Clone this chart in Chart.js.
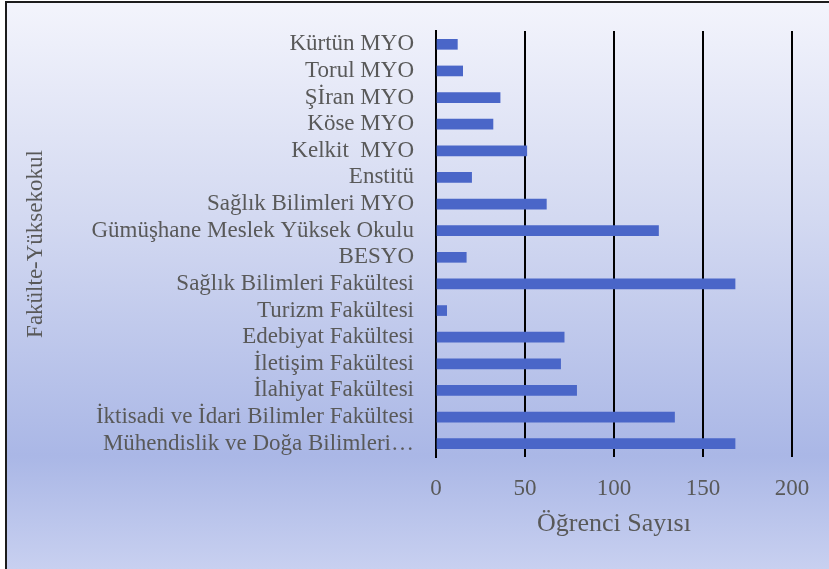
<!DOCTYPE html>
<html>
<head>
<meta charset="utf-8">
<script src="https://cdn.jsdelivr.net/npm/chart.js@4/dist/chart.umd.min.js"></script>
<style>
  html, body { margin: 0; padding: 0; background: #fff; }
  #frame {
    position: absolute; left: 5px; top: 1px; width: 822px; height: 566px;
    border-left: 2px solid #1c1c1c; border-top: 2px solid #1c1c1c;
    background: linear-gradient(to bottom, #f3f4fc 0%, #d3d9f1 38%, #aab7e6 80%, #c8d0f0 100%);
  }
  #wrap { position: absolute; left: 0; top: 0; width: 829px; height: 569px; }
</style>
</head>
<body>
<div id="frame"></div>
<div id="wrap"><canvas id="chart" width="829" height="569"></canvas></div>
<script>
// ===== DATA =====
const categories = [
    "Kürtün MYO",
    "Torul MYO",
    "Şİran MYO",
    "Köse MYO",
    "Kelkit  MYO",
    "Enstitü",
    "Sağlık Bilimleri MYO",
    "Gümüşhane Meslek Yüksek Okulu",
    "BESYO",
    "Sağlık Bilimleri Fakültesi",
    "Turizm Fakültesi",
    "Edebiyat Fakültesi",
    "İletişim Fakültesi",
    "İlahiyat Fakültesi",
    "İktisadi ve İdari Bilimler Fakültesi",
    "Mühendislik ve Doğa Bilimleri…"
];
const studentCounts = [12, 15, 36, 32, 51, 20, 62, 125, 17, 168, 6, 72, 70, 79, 134, 168];
const xTicks = [0, 50, 100, 150, 200];

const textColor = "#595959";
const serif = "'Liberation Serif', 'Times New Roman', serif";

// ===== CHART =====
const chart = new Chart(document.getElementById("chart"), {
    type: "bar",
    data: {
        labels: categories,
        datasets: [{
            label: "Öğrenci Sayısı",
            data: studentCounts,
            backgroundColor: "#4a66c8",
            barThickness: 10
        }]
    },
    options: {
        indexAxis: "y",
        responsive: false,
        animation: false,
        layout: { padding: { top: 31, right: 37, bottom: 0, left: 0 } },
        plugins: { legend: { display: false }, tooltip: { enabled: false } },
        scales: {
            x: {
                min: 0,
                max: 200,
                afterBuildTicks: s => { s.ticks = xTicks.map(v => ({ value: v })); },
                afterFit: s => { s.height = 112; },
                grid: { color: "#000", lineWidth: 2, drawTicks: false },
                border: { display: false },
                ticks: { color: textColor, font: { family: serif, size: 23 }, padding: 18 },
                title: {
                    display: true,
                    text: "Öğrenci Sayısı",
                    color: textColor,
                    font: { family: serif, size: 26 },
                    padding: { top: 0, bottom: 29 }
                }
            },
            y: {
                afterFit: s => { s.width = 436; },
                grid: { display: false },
                border: { color: "#000", width: 2 },
                ticks: {
                    color: textColor, autoSkip: false, padding: 14,
                    font: { family: serif, size: 23, lineHeight: 1 }
                },
                title: {
                    display: true,
                    text: "Fakülte-Yüksekokul",
                    color: textColor,
                    font: { family: serif, size: 23 },
                    padding: { top: 22, bottom: 0 }
                }
            }
        }
    }
});
</script>
</body>
</html>
